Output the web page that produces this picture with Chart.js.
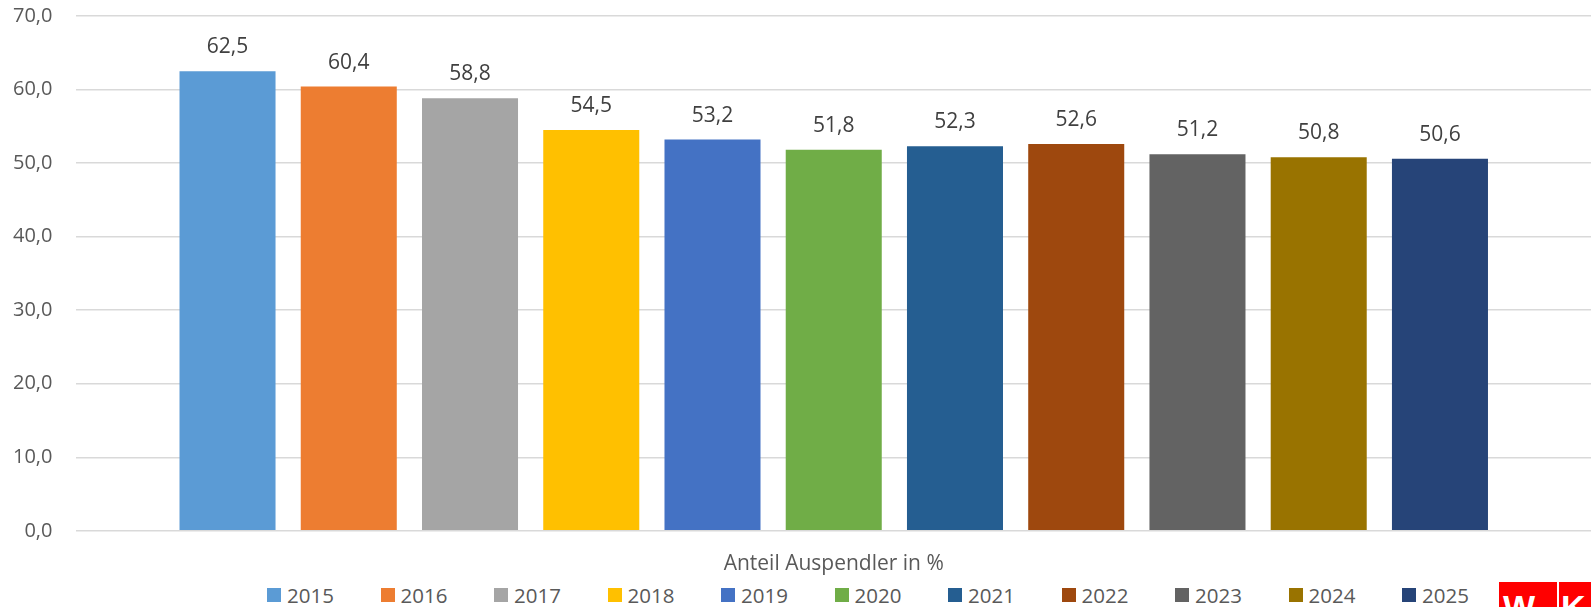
<!DOCTYPE html>
<html>
<head>
<meta charset="utf-8">
<script src="https://cdn.jsdelivr.net/npm/chart.js@4.4.1/dist/chart.umd.min.js"></script>
<style>
  body { margin: 0; background: #fff; font-family: "Open Sans", sans-serif; }
  .wrap { position: relative; width: 1591px; height: 607px; overflow: hidden; }
  .chart_box { position: absolute; left: 0; top: 0; width: 1591px; height: 578px; }
  .legend { position: absolute; left: 267px; top: 585px; display: flex; }
  .legend_line { width: 113.5px; display: flex; align-items: center; font-size: 20.5px; line-height: 20px; color: #595959; }
  .legend_point { width: 14px; height: 14px; margin-right: 6px; }
  .logo { position: absolute; top: 582px; height: 30px; background: #ff0000; color: #fff; font: bold 34px "Liberation Sans", sans-serif; line-height: 1; overflow: hidden; }
</style>
</head>
<body>
<div class="wrap">
  <div class="chart_box"><canvas id="graph"></canvas></div>
  <div class="legend" id="legend"></div>
  <div class="logo" style="left:1499px;width:58px;"><span style="position:absolute;left:4px;top:8px;">W</span></div>
  <div class="logo" style="left:1559px;width:40px;"><span style="position:absolute;left:2px;top:8px;">K</span></div>
</div>
<script>
const categories = ['Anteil Auspendler in %'];
const years = ['2015', '2016', '2017', '2018', '2019', '2020', '2021', '2022', '2023', '2024', '2025'];
const shares = [62.5, 60.4, 58.8, 54.5, 53.2, 51.8, 52.3, 52.6, 51.2, 50.8, 50.6];
const yearColors = ['#5B9BD5', '#ED7D31', '#A5A5A5', '#FFC000', '#4472C4', '#70AD47', '#255E91', '#9E480E', '#636363', '#997300', '#264478'];
const yTicks = [0, 10, 20, 30, 40, 50, 60, 70];

const fmt = (v) => v.toFixed(1).replace('.', ',');

// legend as html, like the rest of the site
let innerHtml = '';
years.forEach((year, i) => {
  innerHtml += '<div class="legend_line"><div class="legend_point" style="background:' + yearColors[i] + '"></div>' + year + '</div>';
});
document.getElementById('legend').innerHTML = innerHtml;

const valueLabels = {
  id: 'valueLabels',
  afterDatasetsDraw(chart) {
    const ctx = chart.ctx;
    ctx.save();
    ctx.font = '21px "Open Sans"';
    ctx.fillStyle = '#404040';
    ctx.textAlign = 'center';
    ctx.textBaseline = 'alphabetic';
    chart.data.datasets.forEach((ds, i) => {
      chart.getDatasetMeta(i).data.forEach((bar, j) => {
        ctx.fillText(fmt(ds.data[j]), bar.x, bar.y - 18);
      });
    });
    ctx.restore();
  }
};

const datasets = years.map((year, i) => ({
  label: year,
  data: [shares[i]],
  backgroundColor: yearColors[i],
  borderWidth: 0,
  categoryPercentage: 0.8806,
  barPercentage: 0.792
}));

// tick padding in chart.js is counted twice, so the gap comes from invisible tick marks
new Chart(document.getElementById('graph'), {
  type: 'bar',
  data: { labels: categories, datasets: datasets },
  options: {
    responsive: true,
    maintainAspectRatio: false,
    animation: false,
    layout: { padding: { top: 16, left: 13, right: 0, bottom: 1 } },
    plugins: {
      legend: { display: false },
      tooltip: { enabled: false }
    },
    scales: {
      x: {
        grid: { drawOnChartArea: false, drawTicks: true, tickLength: 21, tickColor: 'rgba(0,0,0,0)' },
        border: { display: false },
        ticks: { color: '#595959', font: { family: 'Open Sans', size: 21 }, padding: 0 }
      },
      y: {
        min: 0,
        max: 70,
        afterBuildTicks: (axis) => { axis.ticks = yTicks.map((v) => ({ value: v })); },
        grid: { color: '#d9d9d9', lineWidth: 1.5, drawTicks: true, tickLength: 24, tickColor: 'rgba(0,0,0,0)' },
        border: { display: false },
        ticks: {
          color: '#595959',
          font: { family: 'Open Sans', size: 20 },
          padding: 0,
          callback: (v) => fmt(v)
        }
      }
    }
  },
  plugins: [valueLabels]
});
</script>
</body>
</html>
